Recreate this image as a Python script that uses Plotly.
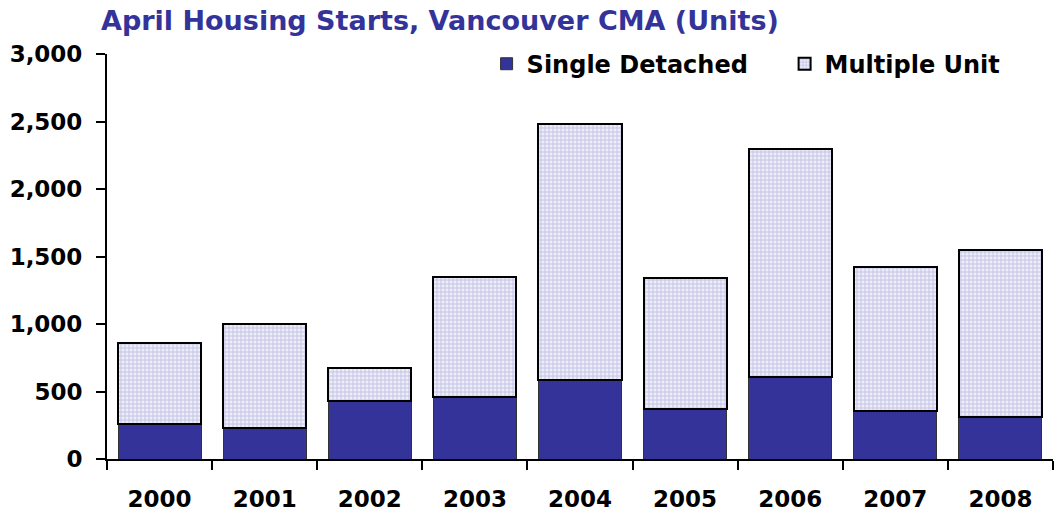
import plotly.graph_objects as go

years = ["2000", "2001", "2002", "2003", "2004", "2005", "2006", "2007", "2008"]
single_detached = [260, 230, 430, 460, 585, 370, 605, 355, 310]
total_starts = [860, 1000, 675, 1350, 2480, 1340, 2300, 1425, 1550]
multiple_unit = [t - s for t, s in zip(total_starts, single_detached)]
y_ticks = [0, 500, 1000, 1500, 2000, 2500, 3000]
y_tick_labels = ["0", "500", "1,000", "1,500", "2,000", "2,500", "3,000"]

WIDE = "'DejaVu Sans', 'Open Sans', sans-serif"

fig = go.Figure()
fig.add_trace(go.Bar(
    x=years, y=single_detached, name="<b>Single Detached</b>",
    marker=dict(color="#333399", line=dict(color="#333333", width=1)),
))
fig.add_trace(go.Bar(
    x=years, y=multiple_unit, name="<b>Multiple Unit</b>",
    marker=dict(
        color="#ececf6",
        line=dict(color="#000000", width=2),
        pattern=dict(shape="+", fgcolor="#9494d4", bgcolor="#ededf8", size=4, solidity=0.4),
    ),
))

fig.update_layout(
    barmode="stack",
    bargap=0.21,
    width=1054, height=520,
    margin=dict(l=107, r=1, t=54, b=61, autoexpand=False),
    paper_bgcolor="white", plot_bgcolor="white",
    font=dict(family=WIDE, color="#000000"),
    title=dict(
        text="<b>April Housing Starts, Vancouver CMA (Units)</b>",
        x=101 / 1054, xanchor="left", xref="container",
        y=1 - 21 / 520, yanchor="middle", yref="container",
        font=dict(size=27, color="#333399", family=WIDE),
    ),
    legend=dict(
        orientation="h", x=(487 - 107) / 947, xanchor="left", y=0.975, yanchor="middle",
        font=dict(size=24, family=WIDE, color="#000000"),
        bgcolor="rgba(0,0,0,0)", traceorder="normal",
        entrywidth=253,
    ),
    showlegend=True,
)
fig.update_xaxes(
    automargin=False,
    tickvals=years, ticktext=[f"<b>{y}</b>" for y in years],
    showline=True, linecolor="#000000", linewidth=2,
    ticks="outside", tickson="boundaries", ticklen=9, tickwidth=2, tickcolor="#000000",
    tickfont=dict(size=23, family=WIDE),
    ticklabelstandoff=18,
    showgrid=False,
)
fig.update_yaxes(
    automargin=False,
    range=[0, 3000],
    tickvals=y_ticks, ticktext=[f"<b>{t}</b>" for t in y_tick_labels],
    showline=True, linecolor="#000000", linewidth=2,
    ticks="outside", ticklen=9, tickwidth=2, tickcolor="#000000",
    tickfont=dict(size=23, family=WIDE),
    ticklabelstandoff=9,
    showgrid=False, zeroline=False,
)

fig.write_html(
    "out.html",
    config={"displayModeBar": False},
    post_script="document.body.style.margin='0';document.body.style.overflow='hidden';",
)
